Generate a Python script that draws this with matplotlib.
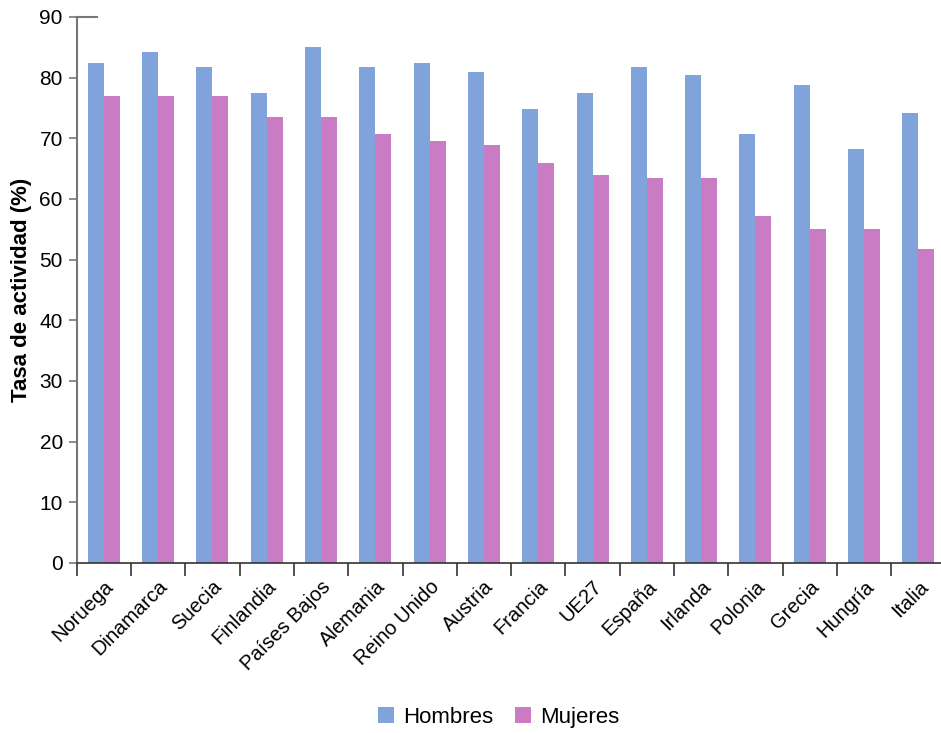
import numpy as np
import matplotlib
matplotlib.use("Agg")
import matplotlib.pyplot as plt
from matplotlib.ticker import FixedLocator

plt.rcParams['font.family'] = ['Liberation Sans', 'DejaVu Sans']

# datos
paises = ["Noruega", "Dinamarca", "Suecia", "Finlandia", "Países Bajos", "Alemania",
          "Reino Unido", "Austria", "Francia", "UE27", "España", "Irlanda",
          "Polonia", "Grecia", "Hungría", "Italia"]
hombres = [82.4, 84.3, 81.7, 77.5, 85.1, 81.7, 82.4, 80.9, 74.8, 77.5, 81.8, 80.5,
           70.7, 78.8, 68.2, 74.2]
mujeres = [76.9, 76.9, 76.9, 73.5, 73.5, 70.7, 69.5, 68.9, 65.9, 64.0, 63.4, 63.4,
           57.2, 55.1, 55.1, 51.7]

color_h = "#7fa3da"
color_m = "#c97bc4"

fig = plt.figure(figsize=(9.41, 7.33), dpi=100)
ax = fig.add_axes([76.7 / 941, 170 / 733, 868.8 / 941, 546 / 733])

x = np.arange(len(paises))
w = 0.295
ax.bar(x - w / 2, hombres, w, color=color_h, label="Hombres")
ax.bar(x + w / 2, mujeres, w, color=color_m, label="Mujeres")

ax.set_xlim(-0.5, len(paises) - 0.5)
ax.set_ylim(0, 90)
ax.set_yticks(range(0, 91, 10))

# etiquetas centradas, marcas entre grupos
ax.set_xticks(x)
ax.set_xticklabels(paises, rotation=45, ha="right", rotation_mode="anchor", fontsize=14.5)
ax.tick_params(axis="x", which="major", length=0, pad=10)
ax.xaxis.set_minor_locator(FixedLocator(np.arange(-0.5, len(paises), 1.0)))
ax.tick_params(axis="x", which="minor", length=9, width=1.2, color="#333333", direction="out")
ax.tick_params(axis="y", length=6, width=1.2, color="#777777", labelsize=15, pad=4)

# marca superior hacia dentro
ax.axhline(90, xmin=0, xmax=0.023, color="#777777", lw=1.5, clip_on=False)

for s in ["top", "right"]:
    ax.spines[s].set_visible(False)
ax.spines["left"].set_color("#777777")
ax.spines["left"].set_linewidth(1.5)
ax.spines["bottom"].set_color("#333333")
ax.spines["bottom"].set_linewidth(1.2)

ax.set_ylabel("Tasa de actividad (%)", fontsize=16, fontweight="bold", labelpad=5)

fig.legend(loc="lower center", bbox_to_anchor=(0.53, -0.02), ncol=2, frameon=False,
           fontsize=16, handlelength=0.7, handleheight=0.7, handletextpad=0.4,
           columnspacing=1.0)

fig.savefig("out.png", dpi=100)
